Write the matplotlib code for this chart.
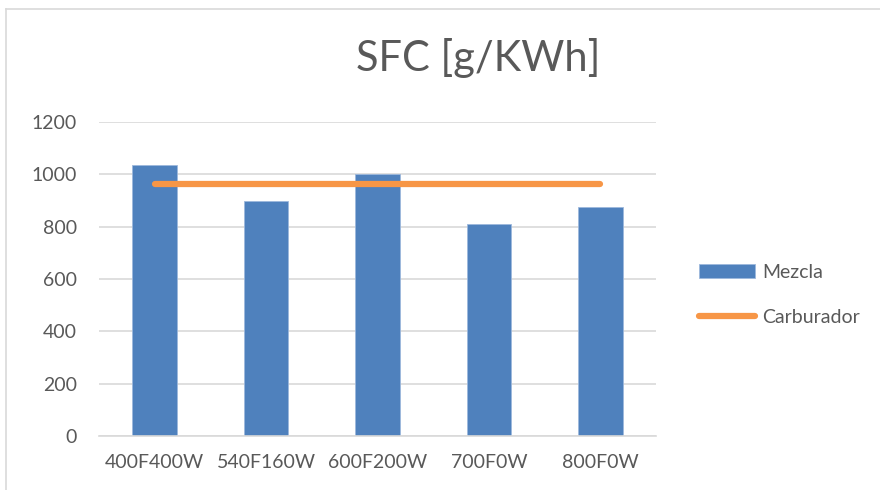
import matplotlib.pyplot as plt
from matplotlib.lines import Line2D

# Datos de consumo especifico
ensayos = ["400F400W", "540F160W", "600F200W", "700F0W", "800F0W"]
mezcla = [1037, 899, 1000, 812, 876]
carburador = [963, 963, 963, 963, 963]

gris = "#595959"
plt.rcParams['font.family'] = ['Lato', 'DejaVu Sans']

fig = plt.figure(figsize=(8.8, 4.9), dpi=100)
ax = fig.add_axes([0.1125, 0.1102, 0.633, 0.6408])

x = list(range(len(ensayos)))
barras = ax.bar(x, mezcla, width=0.4, color="#4F81BD", edgecolor="#9DB8DC", linewidth=0.6,
                label="Mezcla", zorder=2)
linea, = ax.plot(x, carburador, color="#F79646", linewidth=4.5, solid_capstyle="round",
                 label="Carburador", zorder=3)

ax.set_xlim(-0.5, len(ensayos) - 0.5)
ax.set_ylim(0, 1200)
ax.set_yticks(range(0, 1201, 200))
ax.set_xticks(x)
ax.set_xticklabels(ensayos)
ax.grid(axis="y", color="#D9D9D9", linewidth=1.2, zorder=0)
ax.set_axisbelow(True)
for s in ["top", "right", "left"]:
    ax.spines[s].set_visible(False)
ax.spines["bottom"].set_color("#D9D9D9")
ax.spines["bottom"].set_linewidth(1.2)
ax.tick_params(length=0, labelsize=14, colors=gris)
ax.tick_params(axis="y", pad=16)
ax.tick_params(axis="x", pad=13)

fig.text(0.543, 0.882, "SFC [g/KWh]", ha="center", va="center", fontsize=30, color=gris)

leg = ax.legend([barras, linea], ["Mezcla", "Carburador"], loc="center left",
                bbox_to_anchor=(1.045, 0.45), frameon=False,
                fontsize=14, labelcolor=gris, handlelength=2.9, handletextpad=0.35,
                labelspacing=1.45)

# marco del grafico
fig.add_artist(Line2D([6 / 880, 1], [1 - 9 / 490, 1 - 9 / 490], color="#D9D9D9", linewidth=1.2))
fig.add_artist(Line2D([6 / 880, 6 / 880], [0, 1 - 9 / 490], color="#D9D9D9", linewidth=1.2))

fig.savefig("out.png", dpi=100)
